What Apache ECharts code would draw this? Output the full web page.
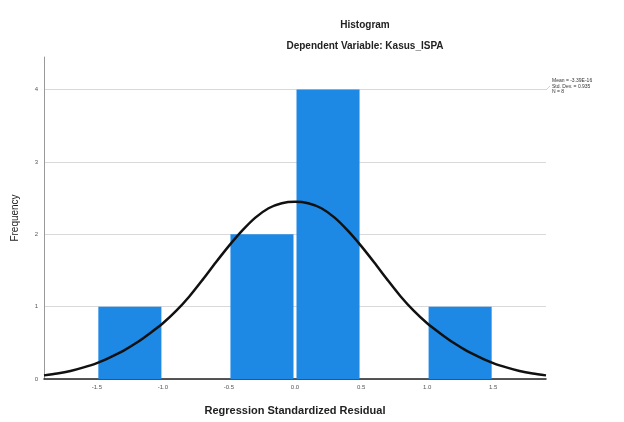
<!DOCTYPE html>
<html>
<head>
<meta charset="utf-8">
<script src="https://cdn.jsdelivr.net/npm/echarts@6/dist/echarts.min.js"></script>
<style>
  html, body { margin: 0; padding: 0; background: #fff; }
  #chart { width: 624px; height: 422px; }
</style>
</head>
<body>
<div id="chart"></div>
<script>
// histogram bins: [from, to, frequency]
const binStart = [-1.5, -0.5, 0.0, 1.0]
const binEnd = [-1.0, 0.0, 0.5, 1.5]
const frequency = [1, 2, 4, 1]

// normal curve
const curveX = [-1.9, -1.8, -1.7, -1.6, -1.5, -1.4, -1.3, -1.2, -1.1, -1.0,
                -0.9, -0.8, -0.7, -0.6, -0.5, -0.4, -0.3, -0.2, -0.1, 0.0,
                0.1, 0.2, 0.3, 0.4, 0.5, 0.6, 0.7, 0.8, 0.9, 1.0,
                1.1, 1.2, 1.3, 1.4, 1.5, 1.6, 1.7, 1.8, 1.9]
const curveY = [0.05, 0.075, 0.11, 0.16, 0.22, 0.30, 0.39, 0.50, 0.63, 0.77,
                0.94, 1.14, 1.37, 1.61, 1.84, 2.05, 2.23, 2.36, 2.43, 2.45,
                2.43, 2.36, 2.23, 2.05, 1.84, 1.61, 1.37, 1.14, 0.94, 0.77,
                0.63, 0.50, 0.39, 0.30, 0.22, 0.16, 0.11, 0.075, 0.05]

const xTicks = [-1.5, -1.0, -0.5, 0.0, 0.5, 1.0, 1.5]
const xTickLabels = ['-1.5', '-1.0', '-0.5', '0.0', '0.5', '1.0', '1.5']

const statLines = ['Mean = -3.39E-16', 'Std. Dev. = 0.935', 'N = 8']

const font = 'Liberation Sans, Arial, sans-serif'
const chart = echarts.init(document.getElementById('chart'))

chart.setOption({
  backgroundColor: '#ffffff',
  animation: false,
  title: [
    {
      text: 'Histogram',
      left: 360, top: 15, textAlign: 'center',
      textStyle: { fontFamily: font, fontSize: 10, fontWeight: 'bold', color: '#222' }
    },
    {
      text: 'Dependent Variable: Kasus_ISPA',
      left: 360, top: 36, textAlign: 'center',
      textStyle: { fontFamily: font, fontSize: 10, fontWeight: 'bold', color: '#222' }
    }
  ],
  grid: { left: 44, right: 78, top: 57, bottom: 43 },
  xAxis: {
    type: 'value',
    min: -1.9,
    max: 1.9,
    name: 'Regression Standardized Residual',
    nameLocation: 'middle',
    nameGap: 26,
    nameTextStyle: { fontFamily: font, fontSize: 11, fontWeight: 'bold', color: '#222' },
    axisLine: { lineStyle: { color: '#222', width: 1.5 } },
    axisTick: { show: false },
    splitLine: { show: false },
    axisLabel: {
      customValues: xTicks,
      formatter: v => xTickLabels[xTicks.indexOf(v)] ?? '',
      fontFamily: font, fontSize: 6, color: '#555', margin: 5
    }
  },
  yAxis: {
    type: 'value',
    min: 0,
    max: 4.45,
    interval: 1,
    name: 'Frequency',
    nameLocation: 'middle',
    nameGap: 24,
    nameTextStyle: { fontFamily: font, fontSize: 10, color: '#222' },
    axisLine: { show: true, onZero: false, lineStyle: { color: '#999', width: 1 } },
    axisTick: { show: false },
    splitLine: { show: true, showMaxLine: false, lineStyle: { color: '#d9d9d9', width: 1 } },
    axisLabel: {
      showMaxLabel: false,
      formatter: v => (Number.isInteger(v) ? String(v) : ''),
      fontFamily: font, fontSize: 6, color: '#555', margin: 6
    }
  },
  graphic: [
    {
      type: 'line',
      shape: { x1: 546, y1: 90, x2: 550, y2: 86 },
      style: { stroke: '#bbb', lineWidth: 0.7 }
    },
    {
      type: 'text',
      left: 552, top: 78,
      style: {
        text: statLines.join('\n'),
        fontFamily: font, fontSize: 5, lineHeight: 5.5, fill: '#333'
      }
    }
  ],
  series: [
    {
      type: 'custom',
      z: 2,
      data: frequency.map((f, i) => [binStart[i], binEnd[i], f]),
      renderItem: (params, api) => {
        const p0 = api.coord([api.value(0), api.value(2)])
        const p1 = api.coord([api.value(1), 0])
        return {
          type: 'rect',
          shape: { x: p0[0] + 1.5, y: p0[1], width: p1[0] - p0[0] - 3, height: p1[1] - p0[1] },
          style: { fill: '#1e88e5' }
        }
      },
      encode: { x: [0, 1], y: 2 }
    },
    {
      type: 'line',
      z: 3,
      smooth: 0.25,
      symbol: 'none',
      data: curveX.map((x, i) => [x, curveY[i]]),
      lineStyle: { color: '#111', width: 2.5 }
    }
  ]
})
</script>
</body>
</html>
